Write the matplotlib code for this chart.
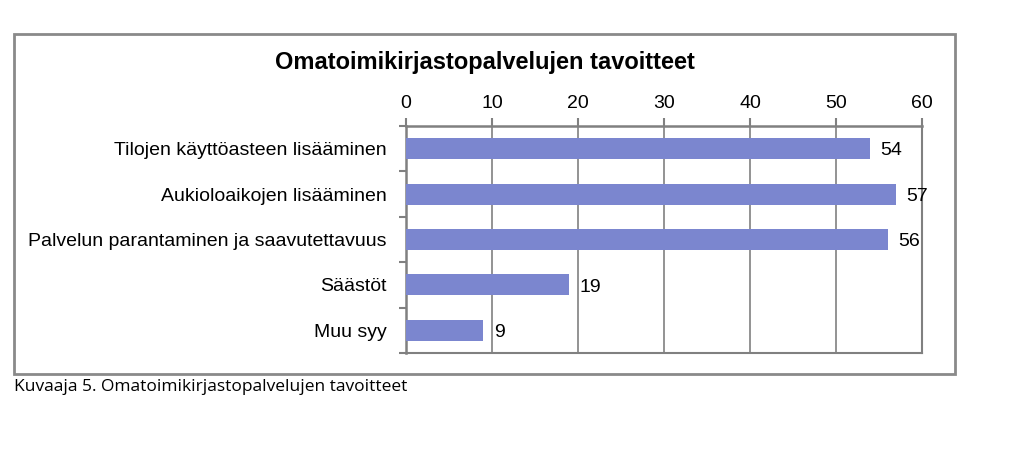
import matplotlib.pyplot as plt
from matplotlib.patches import Rectangle

categories = [
    "Tilojen käyttöasteen lisääminen",
    "Aukioloaikojen lisääminen",
    "Palvelun parantaminen ja saavutettavuus",
    "Säästöt",
    "Muu syy",
]
values = [54, 57, 56, 19, 9]
x_ticks = [0, 10, 20, 30, 40, 50, 60]

plt.rcParams["font.family"] = ["Liberation Sans", "DejaVu Sans"]

figure = plt.figure(figsize=(10.23, 4.62), dpi=100)
ax = figure.add_axes([406 / 1023, 1 - 353 / 462, 516 / 1023, 227 / 462])

positions = list(range(len(categories)))
ax.barh(positions, values, height=0.46, color="#7B86CF", zorder=3)
for pos, val in zip(positions, values):
    ax.text(val + 1.2, pos + 0.05, str(val), va="center", ha="left", fontsize=14, zorder=4)

ax.set_xlim(0, 60)
ax.set_ylim(len(categories) - 0.5, -0.5)
ax.xaxis.tick_top()
ax.set_xticks(x_ticks)
ax.set_xticklabels([str(t) for t in x_ticks], fontsize=14)
ax.tick_params(axis="x", length=6, color="#808080", width=1.5, pad=4)
ax.set_yticks(positions)
ax.set_yticklabels(categories, fontsize=14)
ax.tick_params(axis="y", length=0, pad=14)
ax.set_yticks([p + 0.5 for p in positions[:-1]] + [-0.5, len(categories) - 0.5], minor=True)
ax.tick_params(axis="y", which="minor", length=5, color="#808080", width=1.5)
ax.grid(axis="x", color="#808080", linewidth=1.2, zorder=0)
for side in ["left", "top"]:
    ax.spines[side].set_color("#808080")
    ax.spines[side].set_linewidth(1.8)
for side in ["right", "bottom"]:
    ax.spines[side].set_color("#808080")
    ax.spines[side].set_linewidth(1.5)

figure.patches.append(Rectangle((14 / 1023, 1 - 374 / 462), 941 / 1023, 340 / 462,
                                transform=figure.transFigure, fill=False,
                                edgecolor="#8a8a8a", linewidth=2))
figure.text(485 / 1023, 1 - 63 / 462, "Omatoimikirjastopalvelujen tavoitteet",
            ha="center", va="center", fontsize=17, fontweight="bold")
figure.text(14 / 1023, 1 - 387 / 462, "Kuvaaja 5. Omatoimikirjastopalvelujen tavoitteet",
            ha="left", va="center", fontsize=12.5, family=["Open Sans", "DejaVu Sans"])

figure.savefig("out.png", dpi=100)
plt.close(figure)
